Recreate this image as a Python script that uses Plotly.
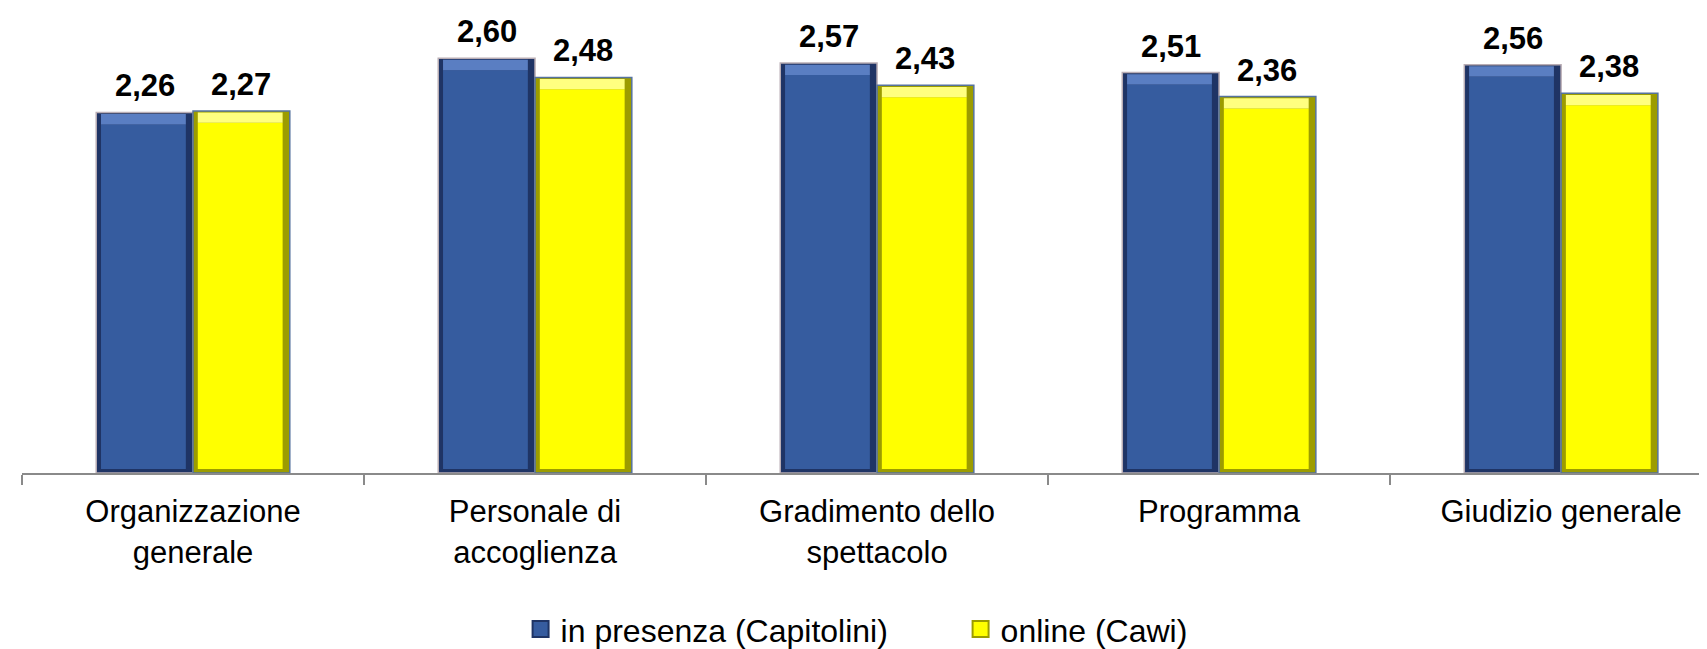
import plotly.graph_objects as go

categories = ["Organizzazione<br>generale", "Personale di<br>accoglienza",
              "Gradimento dello<br>spettacolo", "Programma", "Giudizio generale"]
series_names = ["in presenza (Capitolini)", "online (Cawi)"]
presenza = [2.26, 2.60, 2.57, 2.51, 2.56]
online = [2.27, 2.48, 2.43, 2.36, 2.38]

FONT = "Liberation Sans, Arial, sans-serif"
W = 0.283  # bar width in category units

styles = [
    dict(vals=presenza, offset=-W, dark="#1F3465", face="#365C9F", light="#5A7EC2",
         line="#B9ADB4"),
    dict(vals=online, offset=0.0, dark="#9C9C00", face="#FFFF00", light="#FFFF80",
         line="#56739E"),
]

idx = list(range(len(categories)))
fig = go.Figure()
annotations = []
for name, st in zip(series_names, styles):
    vals = st["vals"]
    n = len(vals)
    # outer (edge) bar
    fig.add_trace(go.Bar(
        x=idx, y=vals, base=[0] * n, width=[W] * n, offset=[st["offset"]] * n,
        marker=dict(color=st["dark"], line=dict(color=st["line"], width=1.5)),
        showlegend=False, legendgroup=name, hoverinfo="skip"))
    # face
    fig.add_trace(go.Bar(
        x=idx, y=[v - 0.1 for v in vals], base=[0.025] * n,
        width=[W - 0.035] * n, offset=[st["offset"] + 0.014] * n,
        marker=dict(color=st["face"], line=dict(width=0)),
        name=name, legendgroup=name, showlegend=False))
    # top bevel
    fig.add_trace(go.Bar(
        x=idx, y=[0.065] * n, base=[v - 0.075 for v in vals],
        width=[W - 0.035] * n, offset=[st["offset"] + 0.014] * n,
        marker=dict(color=st["light"], line=dict(width=0)),
        showlegend=False, legendgroup=name, hoverinfo="skip"))
    # legend entry (square swatch)
    fig.add_trace(go.Scatter(
        x=[None], y=[None], mode="markers", name=name, legendgroup=name,
        marker=dict(symbol="square", size=18, color=st["face"],
                    line=dict(color=st["dark"], width=2)),
        showlegend=True))
    for i, v in zip(idx, vals):
        annotations.append(dict(
            x=i + st["offset"] + W / 2, y=v, xref="x", yref="y",
            text="<b>" + f"{v:.2f}".replace(".", ",") + "</b>",
            showarrow=False, yanchor="bottom", yshift=7,
            font=dict(family=FONT, size=31, color="#000000")))

fig.update_layout(
    width=1707, height=649,
    barmode="overlay",
    plot_bgcolor="white", paper_bgcolor="white",
    margin=dict(l=14, r=0, t=0, b=176),
    font=dict(family=FONT, size=31, color="#000000"),
    annotations=annotations,
    legend=dict(orientation="h", x=0.2945, xanchor="left", y=-0.336, yanchor="middle",
                font=dict(family=FONT, size=32, color="#000000"),
                traceorder="normal", entrywidth=395, entrywidthmode="pixels"),
)
fig.update_xaxes(
    type="linear", range=[-0.5, 4.45],
    tickmode="array", tickvals=idx, ticktext=categories,
    showline=True, linecolor="#8A8A8A", linewidth=2,
    showgrid=False, zeroline=False,
    ticks="", ticklabelstandoff=10,
    tickfont=dict(family=FONT, size=31, color="#000000"),
)
# boundary ticks
fig.update_xaxes(minor=dict(tickmode="array", tickvals=[i - 0.5 for i in idx] + [len(idx) - 0.5],
                            ticks="outside", ticklen=10, tickwidth=2, tickcolor="#8A8A8A",
                            showgrid=False))
fig.update_yaxes(range=[0, 2.915], visible=False, showgrid=False)

fig.write_html("out.html")
